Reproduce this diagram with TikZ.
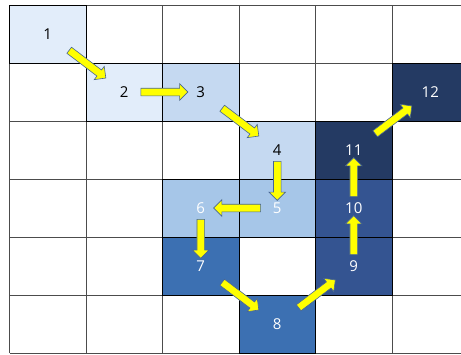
\documentclass[tikz,border=0pt]{standalone}
\usepackage{fontspec}
\setmainfont{Open Sans}
\usetikzlibrary{shapes.arrows}
\definecolor{lvlA}{RGB}{226,237,250}
\definecolor{lvlB}{RGB}{197,217,241}
\definecolor{lvlC}{RGB}{166,198,232}
\definecolor{lvlD}{RGB}{60,112,178}
\definecolor{lvlE}{RGB}{52,84,145}
\definecolor{lvlF}{RGB}{36,58,99}
\definecolor{arrowedge}{RGB}{70,100,150}
\definecolor{arrowfill}{RGB}{255,255,0}
\tikzset{
  gridline/.style={draw=black!70, line width=0.8pt},
  cell/.style={draw=black, line width=0.8pt, minimum width=76.5pt, minimum height=58pt,
    inner sep=0pt, font=\fontsize{15}{18}\selectfont},
  lightcell/.style={cell, text=black},
  darkcell/.style={cell, text=white},
  flow/.style={shape=single arrow, fill=arrowfill, draw=arrowedge, line width=0.6pt,
    single arrow head extend=4.5pt, minimum width=16pt, inner xsep=0pt, inner ysep=3.5pt,
    sloped, allow upside down},
  flowh/.style={flow, minimum height=47pt},
  flowv/.style={flow, minimum height=39pt},
  flowd/.style={flow, minimum height=46pt}
}
\begin{document}
\begin{tikzpicture}[x=76.5pt, y=58pt]
  \useasboundingbox (-9.5pt,5pt) rectangle (451.5pt,-349pt);
  % table
  \foreach \c in {0,...,6} \draw[gridline] (\c,0) -- (\c,-6);
  \foreach \r in {0,...,6} \draw[gridline] (0,-\r) -- (6.2,-\r);

  \node[lightcell, fill=lvlA] (s1) at (0.5,-0.5) {1};
  \node[lightcell, fill=lvlA] (s2) at (1.5,-1.5) {2};
  \node[lightcell, fill=lvlB] (s3) at (2.5,-1.5) {3};
  \node[lightcell, fill=lvlB] (s4) at (3.5,-2.5) {4};
  \node[darkcell, fill=lvlC] (s5) at (3.5,-3.5) {5};
  \node[darkcell, fill=lvlC] (s6) at (2.5,-3.5) {6};
  \node[darkcell, fill=lvlD] (s7) at (2.5,-4.5) {7};
  \node[darkcell, fill=lvlD] (s8) at (3.5,-5.5) {8};
  \node[darkcell, fill=lvlE] (s9) at (4.5,-4.5) {9};
  \node[darkcell, fill=lvlE] (s10) at (4.5,-3.5) {10};
  \node[darkcell, fill=lvlF] (s11) at (4.5,-2.5) {11};
  \node[darkcell, fill=lvlF] (s12) at (5.5,-1.5) {12};

  % path through the cells
  \path (s1.center) -- node[flowd]{} (s2.center);
  \path (s2.center) -- node[flowh]{} (s3.center);
  \path (s3.center) -- node[flowd]{} (s4.center);
  \path (s4.center) -- node[flowv]{} (s5.center);
  \path (s5.center) -- node[flowh]{} (s6.center);
  \path (s6.center) -- node[flowv]{} (s7.center);
  \path (s7.center) -- node[flowd]{} (s8.center);
  \path (s8.center) -- node[flowd]{} (s9.center);
  \path (s9.center) -- node[flowv]{} (s10.center);
  \path (s10.center) -- node[flowv]{} (s11.center);
  \path (s11.center) -- node[flowd]{} (s12.center);
\end{tikzpicture}
\end{document}
